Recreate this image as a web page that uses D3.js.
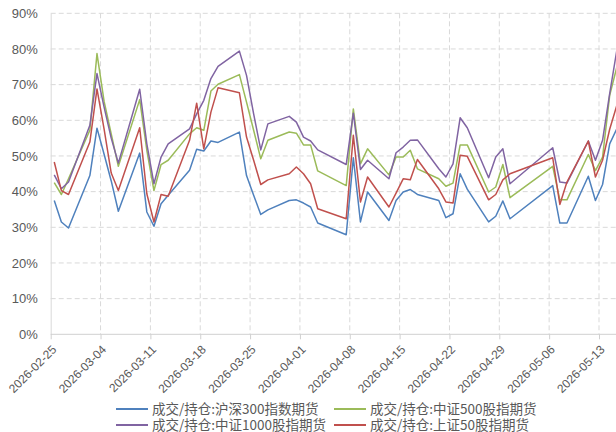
<!DOCTYPE html>
<html>
<head>
<meta charset="utf-8">
<script src="https://cdn.jsdelivr.net/npm/d3@7"></script>
<style>
    body { margin: 0; background: #fff; }
    svg { display: block; font-family: "Noto Sans CJK SC", "Noto Sans", sans-serif; }
</style>
</head>
<body>
<div id="line-chart"></div>
<script>
// trading days (weekends and holidays skipped)
const dates = [
    "2026-02-25","2026-02-26","2026-02-27","2026-03-02","2026-03-03","2026-03-04","2026-03-05","2026-03-06",
    "2026-03-09","2026-03-10","2026-03-11","2026-03-12","2026-03-13","2026-03-16","2026-03-17","2026-03-18",
    "2026-03-19","2026-03-20","2026-03-23","2026-03-24","2026-03-25","2026-03-26","2026-03-27","2026-03-30",
    "2026-03-31","2026-04-01","2026-04-02","2026-04-03","2026-04-07","2026-04-08","2026-04-09","2026-04-10",
    "2026-04-13","2026-04-14","2026-04-15","2026-04-16","2026-04-17","2026-04-20","2026-04-21","2026-04-22",
    "2026-04-23","2026-04-24","2026-04-27","2026-04-28","2026-04-29","2026-04-30","2026-05-06","2026-05-07",
    "2026-05-08","2026-05-11","2026-05-12","2026-05-13","2026-05-14","2026-05-15"
];

const hs300 = [
    37.5, 31.5, 29.8, 44.5, 57.8, 50.5, 43.0, 34.5, 50.8, 34.3, 30.3, 36.6, 39.0, 46.0, 51.9, 51.4,
    54.2, 53.8, 56.7, 44.5, 39.0, 33.6, 34.9, 37.5, 37.7, 36.8, 35.7, 31.2, 27.9, 49.5, 31.5, 39.9,
    31.9, 37.5, 39.9, 40.6, 39.2, 37.5, 32.7, 33.8, 45.0, 40.7, 31.5, 33.1, 37.4, 32.4, 41.7, 31.2,
    31.2, 44.3, 37.5, 42.0, 53.4, 57.6
];
const zz500 = [
    42.5, 39.2, 43.6, 57.2, 78.7, 65.3, 56.2, 47.1, 65.8, 51.6, 40.3, 47.6, 48.8, 56.2, 57.9, 57.2,
    68.2, 70.1, 72.8, 65.1, 57.2, 49.2, 54.4, 56.7, 56.4, 53.1, 53.1, 45.8, 41.7, 63.2, 47.8, 52.0,
    44.7, 49.7, 49.7, 51.6, 46.4, 43.6, 41.5, 42.4, 53.1, 53.1, 39.9, 41.3, 47.6, 38.3, 47.1, 37.7,
    37.7, 50.4, 45.9, 49.7, 67.0, 74.9
];
const zz1000 = [
    44.7, 40.8, 42.7, 58.6, 73.1, 63.7, 55.0, 48.0, 68.7, 53.4, 42.2, 49.7, 53.4, 57.6, 61.8, 65.6,
    71.7, 75.1, 79.4, 72.6, 61.8, 51.7, 59.0, 61.1, 59.5, 55.3, 54.2, 51.7, 47.6, 62.0, 46.2, 48.8,
    43.6, 50.9, 52.5, 54.4, 54.5, 46.4, 44.1, 47.8, 60.7, 57.9, 43.9, 49.7, 52.0, 42.2, 52.3, 42.7,
    42.4, 54.2, 48.8, 54.4, 67.5, 79.6
];
const sz50 = [
    48.3, 40.3, 39.2, 53.9, 68.8, 57.5, 45.2, 40.3, 57.9, 39.4, 31.5, 39.2, 38.7, 54.4, 64.8, 52.0,
    62.3, 69.1, 67.7, 55.3, 48.8, 42.0, 43.3, 45.0, 46.9, 45.0, 42.2, 35.2, 32.4, 55.8, 37.1, 44.1,
    35.7, 39.6, 43.6, 43.3, 49.0, 40.8, 37.1, 36.8, 50.2, 49.9, 37.7, 39.2, 43.3, 45.0, 49.5, 36.4,
    42.7, 54.2, 44.1, 48.8, 57.5, 64.2
];

const seriesNames = [
    "成交/持仓:沪深300指数期货",
    "成交/持仓:中证500股指期货",
    "成交/持仓:中证1000股指期货",
    "成交/持仓:上证50股指期货"
];
const colors = ["#4f81bd", "#9bbb59", "#8064a2", "#c0504d"];

const xTickLabels = [
    "2026-02-25","2026-03-04","2026-03-11","2026-03-18","2026-03-25","2026-04-01",
    "2026-04-08","2026-04-15","2026-04-22","2026-04-29","2026-05-06","2026-05-13"
];
const yTicks = [0, 10, 20, 30, 40, 50, 60, 70, 80, 90];

const width = 616;
const height = 432;
const plot = { left: 50.7, top: 13.3, bottom: 334.3 };

const parse = d3.utcParse("%Y-%m-%d");

const svg = d3.select("#line-chart")
    .append("svg")
    .attr("width", width)
    .attr("height", height);

const x = d3.scaleUtc()
    .domain([parse(xTickLabels[0]), parse(xTickLabels[xTickLabels.length - 1])])
    .range([plot.left, 599]);

const y = d3.scaleLinear()
    .domain([0, 90])
    .range([plot.bottom, plot.top]);

// gridlines
svg.append("g")
    .selectAll("line")
    .data(yTicks.filter(d => d > 0))
    .join("line")
    .attr("x1", plot.left)
    .attr("x2", width)
    .attr("y1", d => y(d))
    .attr("y2", d => y(d))
    .attr("stroke", "#d9d9d9")
    .attr("stroke-dasharray", "5,3");

svg.append("g")
    .selectAll("line")
    .data(xTickLabels.slice(1))
    .join("line")
    .attr("x1", d => x(parse(d)))
    .attr("x2", d => x(parse(d)))
    .attr("y1", plot.top)
    .attr("y2", plot.bottom)
    .attr("stroke", "#d9d9d9")
    .attr("stroke-dasharray", "5,3");

// y axis
const yAxis = svg.append("g")
    .attr("transform", `translate(${plot.left},0)`)
    .call(d3.axisLeft(y).tickValues(yTicks).tickSize(0).tickPadding(13).tickFormat(d => d + "%"));
yAxis.select(".domain").attr("stroke", "#d9d9d9");
yAxis.selectAll("text").attr("fill", "#595959").style("font-size", "13px").style("font-family", "inherit");

// x axis
const xAxis = svg.append("g")
    .attr("transform", `translate(0,${plot.bottom})`)
    .call(d3.axisBottom(x)
        .tickValues(xTickLabels.map(parse))
        .tickSize(5)
        .tickFormat(d3.utcFormat("%Y-%m-%d")));
xAxis.select(".domain").attr("stroke", "#d0d0d0").attr("d", `M${plot.left},0H${width}`);
xAxis.selectAll(".tick line").attr("stroke", "#d0d0d0");
xAxis.selectAll("text")
    .attr("fill", "#595959")
    .style("font-size", "12px")
    .style("font-family", "inherit")
    .attr("text-anchor", "end")
    .attr("dy", null)
    .attr("y", 0)
    .attr("transform", "translate(6,16) rotate(-45)");

// lines
const allSeries = [hs300, zz500, zz1000, sz50];
const line = d3.line()
    .x((d, i) => x(d3.utcHour.offset(parse(dates[i]), 12)))
    .y(d => y(d));

svg.append("g")
    .selectAll("path")
    .data(allSeries)
    .join("path")
    .attr("d", d => line(d))
    .attr("fill", "none")
    .attr("stroke", (d, i) => colors[i])
    .attr("stroke-width", 1.5)
    .attr("stroke-linejoin", "round");

// legend, two rows of two
const legendPos = [[116, 409], [334, 409], [116, 425], [334, 425]];
const legend = svg.append("g")
    .selectAll("g")
    .data(seriesNames)
    .join("g")
    .attr("transform", (d, i) => `translate(${legendPos[i][0]},${legendPos[i][1]})`);

legend.append("line")
    .attr("x1", 0)
    .attr("x2", 32)
    .attr("stroke", (d, i) => colors[i])
    .attr("stroke-width", 2);

legend.append("text")
    .attr("x", 36)
    .attr("dy", "0.35em")
    .attr("fill", "#595959")
    .style("font-size", "13.5px")
    .text(d => d);
</script>
</body>
</html>
